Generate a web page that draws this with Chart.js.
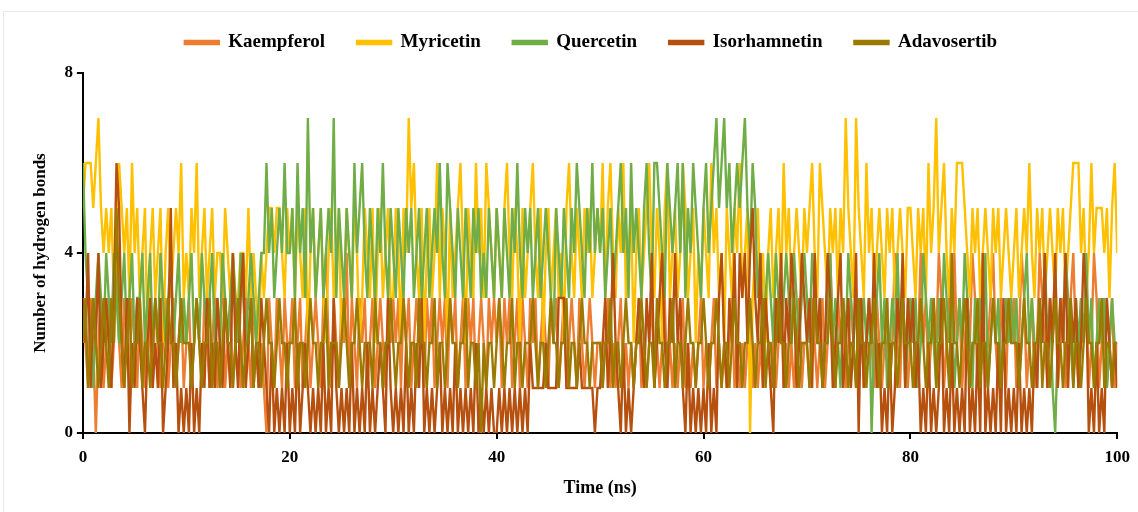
<!DOCTYPE html>
<html>
<head>
<meta charset="utf-8">
<script src="https://cdn.jsdelivr.net/npm/chart.js@4.4.0/dist/chart.umd.min.js"></script>
<style>
  html, body { margin: 0; padding: 0; background: #fff; }
  #wrap { position: relative; width: 1138px; height: 512px; }
  #frame { position: absolute; left: 3px; top: 11px; width: 1140px; height: 520px; border: 1px solid #e8e8e8; box-sizing: border-box; }
  canvas { position: absolute; left: 0; top: 0; }
</style>
</head>
<body>
<div id="wrap">
  <div id="frame"></div>
  <canvas id="hbChart" width="1138" height="512"></canvas>
</div>
<script>
// one frame every 0.25 ns, 0..100 ns
const timeStep = 0.25;
const xTicks = [0, 20, 40, 60, 80, 100];
const yTicks = [0, 4, 8];
const seriesNames = ["Kaempferol", "Myricetin", "Quercetin", "Isorhamnetin", "Adavosertib"];
const seriesColors = ["#ED7D31", "#FFC000", "#70AD47", "#B5500F", "#9A7A00"];

// number of hydrogen bonds per frame (10 ns per row)
const kaempferol = [
  3,2,1,3,2,0,2,3,1,2, 3,1,2,4,2,1,3,2,1,3, 2,1,3,2,1,3,2,1,3,2, 1,2,3,1,2,3,1,2,3,1,
  2,3,1,2,3,2,1,3,2,1, 2,3,1,2,4,1,2,3,1,2, 3,1,2,3,2,1,3,2,1,2, 1,0,3,2,1,3,2,1,3,2,
  2,3,1,2,3,1,2,3,1,2, 3,2,1,3,4,2,1,3,2,1, 3,2,4,1,3,2,1,3,2,3, 1,2,3,1,2,3,2,1,3,2,
  3,2,3,1,3,2,3,1,2,3, 2,3,1,3,2,3,1,2,3,2, 3,1,3,2,3,1,2,3,1,3, 2,3,1,2,3,2,1,3,2,3,
  2,3,1,3,2,3,1,2,3,1, 3,2,1,3,2,3,1,2,3,2, 1,3,2,3,1,2,3,1,2,3, 2,1,3,2,1,2,3,2,1,2,
  2,1,2,3,1,2,1,2,3,1, 2,1,2,1,2,3,1,2,1,2, 3,1,2,1,2,3,1,2,1,2, 1,2,3,1,2,1,2,1,2,3,
  1,2,1,2,3,1,2,1,2,1, 2,3,1,2,1,2,1,2,3,1, 2,1,2,1,3,2,1,2,1,2, 3,1,2,1,2,1,2,3,1,2,
  2,1,3,2,1,2,3,1,2,4, 2,1,3,2,3,1,2,3,2,1, 2,3,1,2,3,2,1,3,2,1, 2,3,1,2,4,2,1,3,2,1,
  2,3,1,2,4,2,3,1,2,3, 2,4,3,1,2,3,1,4,2,3, 1,2,3,2,4,3,1,2,3,1, 2,3,4,2,1,3,2,1,3,2,
  3,1,2,4,3,1,2,3,1,2, 4,3,2,1,3,2,4,1,2,3, 1,2,3,4,2,1,3,2,3,1, 2,4,3,1,2,3,1,2,3,1,
  2
];
const myricetin = [
  5,6,6,6,5,6,7,5,4,5, 4,5,3,4,6,5,4,5,3,6, 4,5,3,4,5,2,4,5,3,4, 5,2,4,5,3,4,5,4,6,3,
  4,3,5,4,6,3,4,5,3,4, 5,3,4,4,3,5,4,3,4,3, 3,4,4,3,5,3,4,3,2,4, 3,4,5,5,4,5,5,4,3,5,
  4,5,3,5,4,3,5,2,4,5, 3,4,5,3,2,4,5,3,4,5, 2,3,5,4,3,5,4,2,3,5, 4,3,5,2,4,5,3,4,5,3,
  3,5,4,2,5,4,7,5,6,4, 3,5,2,4,5,3,4,6,3,5, 4,2,5,3,4,5,6,4,2,5, 4,3,6,4,5,3,6,5,4,3,
  5,4,3,5,6,4,3,5,4,2, 5,3,4,5,6,4,3,5,2,4, 5,3,4,5,3,4,2,5,6,4, 3,5,4,3,5,4,5,3,4,5,
  4,6,3,5,6,4,3,5,4,6, 3,4,5,2,4,5,3,4,5,6, 4,3,5,4,2,5,6,3,4,5, 3,4,6,5,3,4,5,2,4,3,
  5,4,3,6,4,5,3,4,2,5, 4,3,5,4,6,3,4,5,0,3, 4,5,3,4,2,4,5,3,4,5, 3,6,4,5,3,4,5,4,3,5,
  4,5,6,4,3,6,5,4,3,5, 4,5,3,5,4,7,5,4,3,7, 5,4,3,6,4,5,3,4,5,4, 3,5,4,5,3,4,5,4,3,5,
  5,4,3,5,4,5,3,6,4,5, 7,4,5,6,4,3,5,4,6,6, 6,5,4,3,5,4,5,3,4,5, 4,3,5,4,5,3,4,5,4,3,
  4,5,3,4,5,4,6,4,3,5, 4,5,3,4,5,4,3,5,4,5, 3,4,5,6,6,6,4,5,3,4, 6,4,5,5,5,4,5,3,5,6,
  4
];
const quercetin = [
  6,4,3,2,1,3,4,3,2,4, 3,2,4,3,2,3,4,2,3,4, 2,3,3,4,2,3,4,2,3,2, 4,3,2,3,4,2,3,4,2,3,
  2,3,4,2,3,2,4,3,2,3, 4,2,3,2,4,3,2,3,4,3, 2,4,3,2,3,4,3,2,3,4, 4,6,4,5,3,4,5,4,6,4,
  4,5,3,6,4,5,3,7,4,5, 3,4,5,3,4,5,4,7,3,5, 4,3,5,4,3,6,4,5,6,4, 3,5,4,3,5,4,6,4,3,5,
  4,3,5,4,3,5,4,5,3,4, 5,3,4,5,3,4,5,4,6,4, 3,6,5,4,3,5,4,3,5,4, 3,5,4,5,3,4,3,5,4,3,
  5,4,3,5,4,3,5,4,6,4, 3,5,4,5,3,4,5,3,4,5, 4,3,2,5,4,3,5,4,3,5, 4,6,5,4,3,5,4,6,4,5,
  4,5,3,4,5,3,4,5,6,4, 5,3,6,4,5,4,3,5,6,4, 3,6,6,5,4,3,6,5,4,5, 6,4,6,3,5,4,6,5,4,3,
  5,6,4,5,6,7,5,6,7,5, 6,4,5,6,5,6,7,5,4,6, 5,3,4,2,3,4,3,2,4,3, 2,3,4,3,2,4,3,2,3,4,
  3,2,4,3,2,3,1,2,3,4, 2,3,2,1,3,2,4,3,2,3, 1,2,3,2,3,0,2,3,4,2, 3,1,2,3,2,4,2,3,1,2,
  3,2,3,1,2,4,3,2,3,2, 1,3,2,4,3,2,3,1,2,3, 2,4,3,2,1,3,2,3,2,4, 1,2,3,2,3,1,2,3,2,3,
  2,3,1,2,3,4,2,3,2,1, 3,2,4,2,3,1,0,2,3,2, 4,3,2,1,3,2,3,2,4,2, 3,1,2,3,2,3,1,2,3,2,
  2
];
const isorhamnetin = [
  3,2,4,1,3,2,4,1,2,3, 2,1,3,6,5,2,1,3,0,2, 1,3,2,1,0,2,3,1,2,1, 3,0,1,2,5,1,2,0,1,0,
  1,0,2,0,1,0,2,1,3,1, 2,1,3,2,1,3,2,1,4,2, 1,3,4,1,2,3,1,2,1,3, 2,1,0,2,0,1,0,1,0,2,
  0,1,0,2,0,1,2,1,0,1, 0,1,0,2,0,1,0,3,1,0, 1,0,1,0,2,0,1,0,1,0, 2,0,1,0,1,2,1,0,3,1,
  0,1,0,1,0,2,0,1,0,2, 1,3,0,1,0,1,0,1,2,0, 1,0,1,0,2,0,1,0,1,0, 1,0,2,0,1,0,1,0,1,0,
  0,1,0,1,0,1,0,1,0,1, 0,1,0,2,1,1,1,1,1,2, 1,1,1,1,3,3,3,1,1,1, 1,1,2,1,1,1,1,1,0,1,
  1,2,3,1,2,4,2,1,0,2, 0,1,0,1,2,3,2,1,3,2, 4,1,2,3,4,2,1,3,2,4, 2,3,1,0,2,0,1,0,1,0,
  1,0,2,0,1,0,3,4,2,1, 3,2,4,1,4,3,4,2,4,5, 3,2,4,1,3,2,1,0,3,2, 4,1,3,2,4,3,1,2,4,3,
  2,3,1,4,2,3,1,2,4,3, 1,2,3,4,1,2,3,1,2,4, 0,3,1,2,3,2,4,1,2,0, 1,0,2,0,1,3,2,4,1,3,
  2,3,1,2,0,1,0,2,0,1, 0,1,3,0,1,0,2,0,1,0, 1,0,3,0,1,0,2,0,4,0, 1,0,1,0,2,0,3,0,1,0,
  1,0,2,0,1,0,1,0,2,1, 3,2,4,1,3,2,4,1,3,2, 4,1,3,2,3,1,2,4,3,0, 1,0,2,0,1,0,3,2,1,2,
  1
];
const adavosertib = [
  2,3,1,2,3,2,1,2,3,2, 1,3,2,5,3,2,1,2,3,1, 2,2,3,1,2,2,1,2,3,2, 2,1,2,3,2,2,1,2,3,2,
  2,2,1,2,3,2,1,2,2,3, 1,2,2,1,2,3,2,2,1,2, 3,2,1,2,2,3,1,2,2,1, 2,3,2,2,1,2,3,2,2,1,
  2,2,3,1,2,2,1,2,3,2, 2,1,2,2,3,1,2,2,2,1, 2,3,2,1,2,2,3,2,1,2, 2,2,1,3,2,2,1,2,2,3,
  2,1,2,2,3,2,1,2,2,1, 3,2,2,1,2,2,3,1,2,2, 1,2,3,2,2,1,2,2,3,1, 2,2,1,2,0,2,1,2,2,1,
  2,3,2,1,2,2,3,1,2,2, 1,2,2,2,3,2,1,2,2,1, 2,3,2,2,1,2,2,3,1,2, 2,1,2,3,2,2,1,2,2,2,
  2,1,2,2,3,1,2,2,1,2, 3,2,2,1,2,2,3,2,1,2, 2,1,3,2,2,1,2,2,3,1, 2,2,1,2,3,2,2,1,2,2,
  3,2,1,2,2,3,2,1,2,2, 1,2,3,2,2,1,2,2,3,2, 1,2,2,3,1,2,2,1,2,3, 2,2,1,2,2,3,2,1,2,2,
  2,1,2,3,2,2,1,2,2,3, 2,1,2,2,3,2,1,2,2,1, 3,2,2,1,2,2,3,2,1,2, 2,3,1,2,2,1,2,3,2,2,
  2,1,2,2,3,2,1,2,2,3, 1,2,2,3,2,1,4,2,2,1, 2,3,2,1,2,2,3,1,2,2, 1,2,3,2,2,1,2,2,3,2,
  2,2,1,2,3,2,2,1,2,2, 3,1,2,2,1,2,3,2,2,1, 2,2,3,1,2,2,1,2,3,2, 2,1,2,2,3,1,2,2,1,2,
  2
];

const allSeries = [kaempferol, myricetin, quercetin, isorhamnetin, adavosertib];
// later series are painted on top
const drawOrder = [5, 4, 3, 2, 1];

const datasets = allSeries.map((vals, i) => ({
  label: seriesNames[i],
  data: vals.map((v, k) => ({ x: k * timeStep, y: v })),
  borderColor: seriesColors[i],
  backgroundColor: seriesColors[i],
  borderWidth: 2.4,
  pointRadius: 0,
  tension: 0,
  fill: false,
  order: drawOrder[i]
}));

const font = "'Liberation Serif', 'Times New Roman', serif";

// extra gap under the legend, and nudge it right like the original figure
const legendTweak = {
  id: "legendTweak",
  beforeInit(chart) {
    const fit = chart.legend.fit;
    chart.legend.fit = function () {
      fit.call(this);
      this.height += 11;
    };
  },
  afterLayout(chart) {
    chart.legend.left += 19;
    chart.legend.right += 19;
  }
};

new Chart(document.getElementById("hbChart").getContext("2d"), {
  type: "line",
  data: { datasets: datasets },
  plugins: [legendTweak],
  options: {
    responsive: false,
    animation: false,
    layout: { padding: { left: 26, right: 20, top: 1, bottom: 9 } },
    plugins: {
      legend: {
        position: "top",
        labels: {
          color: "#000",
          font: { family: font, size: 19, weight: "bold" },
          boxWidth: 34,
          boxHeight: 3,
          padding: 32,
          sort: (a, b) => a.datasetIndex - b.datasetIndex
        }
      },
      tooltip: { enabled: false }
    },
    scales: {
      x: {
        type: "linear",
        min: 0,
        max: 100,
        afterBuildTicks: axis => { axis.ticks = xTicks.map(v => ({ value: v })); },
        ticks: { color: "#000", font: { family: font, size: 17, weight: "bold" }, padding: 8 },
        grid: { drawOnChartArea: false, drawTicks: true, tickLength: 6, color: "#000", lineWidth: 2 },
        border: { display: true, color: "#000", width: 2 },
        title: { display: true, text: "Time (ns)", color: "#000", font: { family: font, size: 18, weight: "bold" }, padding: { top: 2 } }
      },
      y: {
        min: 0,
        max: 8,
        afterBuildTicks: axis => { axis.ticks = yTicks.map(v => ({ value: v })); },
        ticks: { color: "#000", font: { family: font, size: 17, weight: "bold" }, padding: 4 },
        grid: { drawOnChartArea: false, drawTicks: true, tickLength: 6, color: "#000", lineWidth: 2 },
        border: { display: true, color: "#000", width: 2 },
        title: { display: true, text: "Number of hydrogen bonds", color: "#000", font: { family: font, size: 17, weight: "bold" }, padding: { bottom: 10 } }
      }
    }
  }
});
</script>
</body>
</html>
